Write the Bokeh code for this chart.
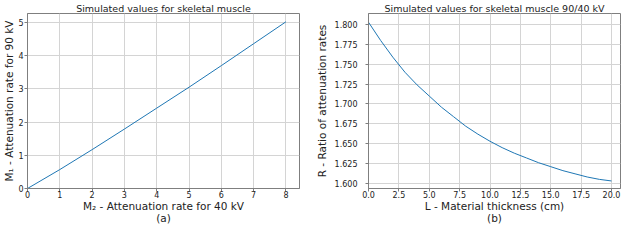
from bokeh.plotting import figure
from bokeh.layouts import row
from bokeh.models import Range1d, FixedTicker, PrintfTickFormatter
from bokeh.embed import file_html
from bokeh.resources import INLINE

# ---- data (a) ----
m2_values = [0, 1, 2, 3, 4, 5, 6, 7, 8]
m1_values = [0.0, 0.57, 1.17, 1.79, 2.42, 3.05, 3.70, 4.36, 5.02]
a_xticks = [0, 1, 2, 3, 4, 5, 6, 7, 8]
a_yticks = [0, 1, 2, 3, 4, 5]

# ---- data (b) ----
thickness = [0, 1, 2, 3, 4, 5, 6, 7, 8, 9, 10, 11, 12, 13, 14, 15, 16, 17, 18, 19, 20]
ratio = [1.803, 1.780, 1.759, 1.740, 1.724, 1.710, 1.696, 1.684, 1.672, 1.662, 1.653,
         1.645, 1.638, 1.632, 1.626, 1.621, 1.616, 1.612, 1.608, 1.605, 1.603]
b_xticks = [0, 2.5, 5, 7.5, 10, 12.5, 15, 17.5, 20]
b_yticks = [1.600, 1.625, 1.650, 1.675, 1.700, 1.725, 1.750, 1.775, 1.800]

FONT = "DejaVu Sans"
TXT = "#222222"
LINE = "#1f77b4"
SPINE = "#7f7f7f"
GRID = "#d4d4d4"
W, H = 312, 226


def set_standoff(obj, name, val, fallback):
    try:
        setattr(obj, name, val)
    except Exception:
        setattr(obj, name, fallback)


def style(p, title, label_standoff_y, axis_label_standoff_y):
    p.outline_line_color = SPINE
    p.outline_line_width = 1
    p.background_fill_color = "white"
    p.border_fill_color = "white"
    for ax in (p.xaxis[0], p.yaxis[0]):
        ax.axis_line_color = SPINE
        ax.major_tick_line_color = SPINE
        ax.major_tick_out = 3
        ax.major_tick_in = 0
        ax.minor_tick_out = 0
        ax.minor_tick_in = 0
        ax.minor_tick_line_color = None
        ax.major_label_text_font = FONT
        ax.major_label_text_font_size = "8px"
        ax.major_label_text_color = TXT
        ax.axis_label_text_font = FONT
        ax.axis_label_text_font_size = "10.5px"
        ax.axis_label_text_font_style = "normal"
        ax.axis_label_text_color = TXT
    xa = p.xaxis[0]
    set_standoff(xa, "major_label_standoff", -1, 0)
    set_standoff(xa, "axis_label_standoff", -1, 0)
    xa.axis_label_text_line_height = 1.0
    p.yaxis.major_label_standoff = label_standoff_y
    p.yaxis.axis_label_standoff = axis_label_standoff_y
    p.grid.grid_line_color = GRID
    p.grid.grid_line_width = 1
    p.title.text = title
    p.title.text_font = FONT
    p.title.text_font_size = "9.5px"
    p.title.text_font_style = "normal"
    p.title.text_color = TXT
    p.title.align = "center"
    p.title.standoff = 0
    p.title.offset = 0


p1 = figure(width=W, height=H, output_backend="svg", toolbar_location=None,
            x_range=Range1d(0, 8.42), y_range=Range1d(0, 5.27),
            min_border_left=22, min_border_right=13, min_border_top=8, min_border_bottom=37)
p1.line(m2_values, m1_values, line_color=LINE, line_width=1)
p1.xaxis.ticker = FixedTicker(ticks=a_xticks)
p1.yaxis.ticker = FixedTicker(ticks=a_yticks)
p1.xaxis.formatter = PrintfTickFormatter(format="%d")
p1.yaxis.formatter = PrintfTickFormatter(format="%d")
p1.xaxis.axis_label = "M₂ - Attenuation rate for 40 kV\n(a)"
p1.yaxis.axis_label = "M₁ - Attenuation rate for 90 kV"
style(p1, "Simulated values for skeletal muscle", 1, 0)

p2 = figure(width=W, height=H, output_backend="svg", toolbar_location=None,
            x_range=Range1d(0, 20.74), y_range=Range1d(1.5935, 1.814),
            min_border_left=53, min_border_right=4, min_border_top=9, min_border_bottom=36)
p2.line(thickness, ratio, line_color=LINE, line_width=1)
p2.xaxis.ticker = FixedTicker(ticks=b_xticks)
p2.yaxis.ticker = FixedTicker(ticks=b_yticks)
p2.xaxis.formatter = PrintfTickFormatter(format="%.1f")
p2.yaxis.formatter = PrintfTickFormatter(format="%.3f")
p2.xaxis.axis_label = "L - Material thickness (cm)\n(b)"
p2.yaxis.axis_label = "R - Ratio of attenuation rates"
style(p2, "Simulated values for skeletal muscle 90/40 kV", 8, 4)

layout = row(p1, p2)
open("out.html", "w").write(file_html(layout, INLINE))
